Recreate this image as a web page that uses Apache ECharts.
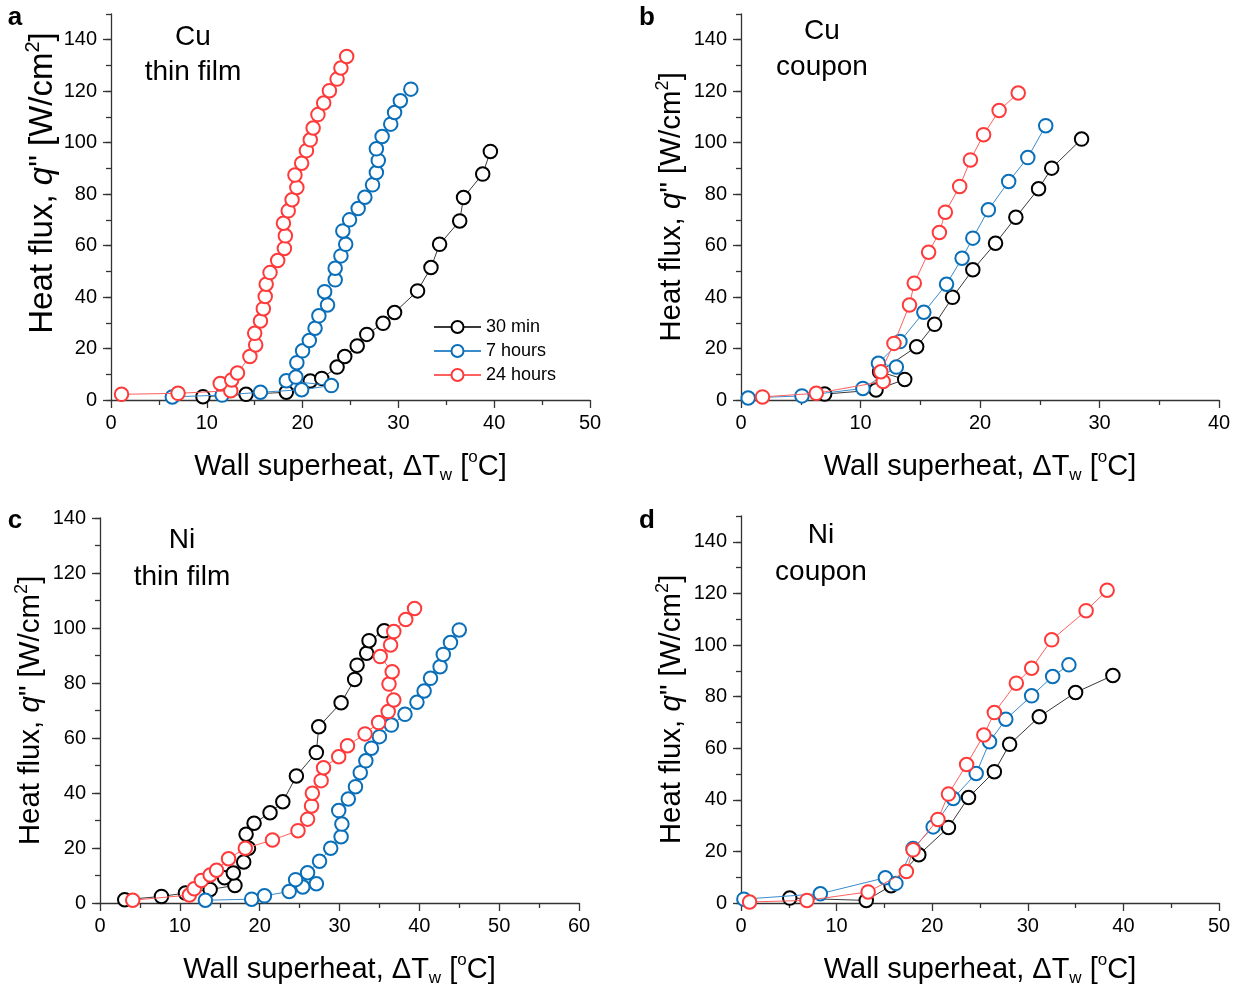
<!DOCTYPE html>
<html><head><meta charset="utf-8">
<script src="https://cdn.jsdelivr.net/npm/echarts@6/dist/echarts.min.js"></script>
<style>html,body{margin:0;padding:0;background:#fff}#c{width:1244px;height:991px}</style>
</head><body><div id="c"></div>
<script>
// ---------- data ----------
const seriesNames = ['30 min', '7 hours', '24 hours'];
const yTickLabels = [0, 20, 40, 60, 80, 100, 120, 140];
const xTicksA = [0, 10, 20, 30, 40, 50];
const xTicksB = [0, 10, 20, 30, 40];
const xTicksC = [0, 10, 20, 30, 40, 50, 60];
const xTicksD = [0, 10, 20, 30, 40, 50];

// a: Cu thin film
const aBlack = [[9.6,1.3],[14.1,2.2],[18.3,3.0],[20.8,7.4],[22.0,8.4],[23.6,12.8],[24.4,16.9],[25.7,21.0],[26.7,25.5],[28.4,29.8],[29.6,34.0],[32.0,42.4],[33.4,51.5],[34.3,60.5],[36.4,69.6],[36.8,78.7],[38.8,87.8],[39.6,96.6]];
const aBlue = [[6.4,1.2],[11.6,1.9],[15.6,3.0],[19.9,4.0],[23.0,5.6],[18.3,7.5],[19.3,8.9],[19.4,14.5],[20.0,19.1],[20.7,23.1],[21.3,27.9],[21.7,32.7],[22.6,36.9],[22.3,42.1],[23.4,46.7],[23.4,51.2],[24.0,56.0],[24.5,60.5],[24.2,65.7],[24.9,70.0],[25.8,74.4],[26.5,78.8],[27.3,83.6],[27.7,88.4],[27.9,93.1],[27.7,97.6],[28.3,102.4],[29.2,107.2],[29.6,111.7],[30.2,116.3],[31.3,120.8]];
const aRed = [[1.1,2.2],[7.0,2.6],[12.5,3.6],[11.4,6.4],[12.6,7.8],[13.2,10.5],[14.5,16.9],[15.1,21.4],[15.0,25.9],[15.6,30.7],[15.9,35.5],[16.1,40.2],[16.2,45.0],[16.6,49.5],[17.4,54.2],[18.1,58.9],[18.2,63.8],[18.0,68.7],[18.5,73.5],[18.9,77.8],[19.4,82.6],[19.2,87.4],[19.9,92.0],[20.4,96.9],[20.8,101.1],[21.1,105.7],[21.6,110.9],[22.2,115.4],[22.8,120.2],[23.6,124.7],[24.0,129.0],[24.6,133.5]];

// b: Cu coupon
const bBlack = [[7.0,2.3],[11.3,3.9],[13.7,8.0],[11.6,11.0],[14.7,20.7],[16.2,29.4],[17.7,39.9],[19.4,50.6],[21.3,60.9],[23.0,71.0],[24.9,82.1],[26.0,90.1],[28.5,101.4]];
const bBlue = [[0.6,0.8],[5.1,1.6],[10.2,4.5],[13.0,12.8],[11.5,14.3],[13.3,22.7],[15.3,34.1],[17.2,45.0],[18.5,55.1],[19.4,62.9],[20.7,73.9],[22.4,84.9],[24.0,94.2],[25.5,106.6]];
const bRed = [[1.8,1.2],[6.3,2.6],[11.9,7.2],[11.7,11.0],[12.8,22.0],[14.1,36.9],[14.5,45.4],[15.7,57.4],[16.6,65.1],[17.1,73.0],[18.3,83.0],[19.2,93.3],[20.3,103.1],[21.6,112.5],[23.2,119.3]];

// c: Ni thin film
const cBlack = [[3.1,1.2],[7.7,2.4],[10.7,3.6],[13.8,4.9],[16.9,6.4],[15.6,9.2],[16.7,10.9],[18.0,14.9],[18.6,19.9],[18.3,25.0],[19.3,29.0],[21.3,32.8],[22.9,36.8],[24.6,46.2],[27.1,54.7],[27.4,64.1],[30.2,72.8],[31.9,81.3],[32.2,86.5],[33.4,90.8],[33.7,95.4],[35.6,99.0]];
const cBlue = [[13.2,1.0],[19.0,1.4],[20.6,2.6],[23.7,4.2],[25.4,5.8],[27.1,7.0],[24.5,8.5],[26.0,11.0],[27.5,15.2],[28.9,19.9],[30.2,24.1],[30.3,28.7],[29.9,33.6],[31.1,37.8],[32.0,42.3],[32.6,47.4],[33.3,51.7],[34.0,56.3],[35.0,60.5],[36.5,64.7],[38.2,68.6],[39.7,73.0],[40.6,77.1],[41.4,81.7],[42.6,85.9],[43.0,90.4],[43.9,94.7],[45.0,99.3]];
const cRed = [[4.1,1.0],[11.2,2.9],[11.8,5.2],[12.7,8.2],[13.8,10.2],[14.6,11.9],[16.1,16.1],[18.2,19.9],[21.6,22.9],[24.8,26.3],[26.0,30.5],[26.5,35.3],[26.6,39.9],[27.7,44.5],[28.0,49.2],[29.9,53.2],[31.0,57.2],[33.2,61.5],[34.9,65.6],[36.1,69.6],[36.8,73.8],[36.2,79.6],[36.6,84.1],[35.1,89.6],[36.4,93.8],[36.8,98.7],[38.3,103.1],[39.4,107.1]];

// d: Ni coupon
const dBlack = [[5.1,1.9],[13.1,1.0],[15.7,6.7],[18.6,18.7],[21.7,29.3],[23.8,40.9],[26.5,50.9],[28.1,61.5],[31.2,72.2],[35.0,81.6],[38.9,88.2]];
const dBlue = [[0.3,1.5],[8.3,3.6],[15.1,9.8],[16.2,7.6],[18.0,21.1],[20.1,29.5],[22.2,40.5],[24.6,50.2],[26.0,62.5],[27.7,71.2],[30.4,80.3],[32.6,87.8],[34.3,92.3]];
const dRed = [[0.9,0.4],[6.9,1.0],[13.3,4.3],[17.3,12.2],[18.0,20.6],[20.6,32.4],[21.7,42.2],[23.6,53.7],[25.4,65.1],[26.5,73.8],[28.8,85.2],[30.4,91.0],[32.5,102.0],[36.1,113.3],[38.3,121.2]];

// ---------- styling / layout ----------
const FONT = '"Liberation Sans", Arial, Helvetica, sans-serif';
const colors = ['#000000', '#0a6fb8', '#ff3a3a'];
const lineColors = ['#3a3a3a', '#3a8ccc', '#ff6060'];
const AX = '#333';

const panels = [
  { grid: {left: 111, top: 14, width: 479, height: 386}, xTicks: xTicksA, yMax: 150, data: [aBlack, aBlue, aRed], yFont: 33, yGap: 48, yPad: [0, 0, 0, 48] },
  { grid: {left: 741, top: 14, width: 478, height: 386}, xTicks: xTicksB, yMax: 150, data: [bBlack, bBlue, bRed], yFont: 29.5, yGap: 51, yPad: 0 },
  { grid: {left: 100, top: 518, width: 479, height: 385}, xTicks: xTicksC, yMax: 140, data: [cBlack, cBlue, cRed], yFont: 29.5, yGap: 51, yPad: 0 },
  { grid: {left: 741, top: 516, width: 478, height: 387}, xTicks: xTicksD, yMax: 150, data: [dBlack, dBlue, dRed], yFont: 29.5, yGap: 51, yPad: 0 }
];

function richSet(fs) {
  const s = Math.round(fs * 0.6);
  return {
    n: {fontSize: fs, fontFamily: FONT, color: '#000', lineHeight: fs + 6},
    i: {fontSize: fs, fontFamily: FONT, color: '#000', fontStyle: 'italic', lineHeight: fs + 6},
    sup: {fontSize: s, fontFamily: FONT, color: '#000', verticalAlign: 'top', lineHeight: s},
    sub: {fontSize: s, fontFamily: FONT, color: '#000', verticalAlign: 'bottom', lineHeight: s}
  };
}
const xName = '{n|Wall superheat, ΔT}{sub|w}{n| [}{sup|o}{n|C]}';
const yName = '{n|Heat flux, }{i|q}{n|" [W/cm}{sup|2}{n|]}';

const grids = [], xAxes = [], yAxes = [], series = [];
panels.forEach((p, i) => {
  grids.push(Object.assign({containLabel: false}, p.grid));
  const xMax = p.xTicks[p.xTicks.length - 1];
  xAxes.push({
    type: 'value', gridIndex: i, min: 0, max: xMax, interval: 10,
    axisLine: {show: true, onZero: false, lineStyle: {color: AX, width: 1.3}},
    axisTick: {show: true, length: 8, lineStyle: {color: AX, width: 1.3}},
    minorTick: {show: true, splitNumber: 2, length: 5, lineStyle: {color: AX, width: 1.3}},
    splitLine: {show: false}, minorSplitLine: {show: false},
    axisLabel: {fontSize: 20, color: '#000', fontFamily: FONT, margin: 13},
    name: xName, nameLocation: 'middle', nameGap: 49,
    nameTextStyle: {rich: richSet(29)}
  });
  yAxes.push({
    type: 'value', gridIndex: i, position: 'left', min: 0, max: p.yMax, interval: 20,
    axisLine: {show: true, onZero: false, lineStyle: {color: AX, width: 1.3}},
    axisTick: {show: true, length: 8, lineStyle: {color: AX, width: 1.3}, customValues: yTickLabels},
    splitLine: {show: false},
    axisLabel: {fontSize: 20, color: '#000', fontFamily: FONT, margin: 14, customValues: yTickLabels},
    name: yName, nameLocation: 'middle', nameRotate: 90, nameGap: p.yGap,
    nameTextStyle: {rich: richSet(p.yFont), padding: p.yPad}
  });
  yAxes.push({
    type: 'value', gridIndex: i, position: 'left', min: 0, max: p.yMax, interval: 10,
    axisLine: {show: false}, splitLine: {show: false}, axisLabel: {show: false},
    axisTick: {show: true, length: 5, lineStyle: {color: AX, width: 1.3}}
  });
  p.data.forEach((d, k) => {
    series.push({
      type: 'line', name: seriesNames[k], xAxisIndex: i, yAxisIndex: 2 * i,
      data: d, symbol: 'emptyCircle', symbolSize: 13.5, clip: false,
      itemStyle: {color: colors[k], borderWidth: 2},
      lineStyle: {color: lineColors[k], width: 1},
      emphasis: {disabled: true}, z: 2 + k, animation: false
    });
  });
});

function txt(s, x, y, fs, bold) {
  return {type: 'text', x: x, y: y, silent: true,
    style: {text: s, fontSize: fs, fontFamily: FONT, fontWeight: bold ? 'bold' : 'normal', fill: '#000', align: 'center', verticalAlign: 'middle'}};
}
const graphics = [
  txt('a', 15, 18, 26, true), txt('b', 647, 18, 26, true),
  txt('c', 15, 521, 26, true), txt('d', 647, 521, 26, true),
  txt('Cu', 193, 37, 28), txt('thin film', 193, 72, 28),
  txt('Cu', 822, 31, 28), txt('coupon', 822, 67, 28),
  txt('Ni', 182, 540, 28), txt('thin film', 182, 577, 28),
  txt('Ni', 821, 535, 28), txt('coupon', 821, 572, 28)
];

const chart = echarts.init(document.getElementById('c'), null, {renderer: 'canvas'});
chart.setOption({
  animation: false,
  backgroundColor: '#fff',
  textStyle: {fontFamily: FONT},
  grid: grids, xAxis: xAxes, yAxis: yAxes, series: series,
  legend: {
    data: seriesNames, orient: 'vertical', left: 433, top: 318, padding: 0,
    itemWidth: 47, itemHeight: 15, itemGap: 6, selectedMode: false,
    textStyle: {fontSize: 18, color: '#000', fontFamily: FONT}
  },
  graphic: graphics
});
</script></body></html>
